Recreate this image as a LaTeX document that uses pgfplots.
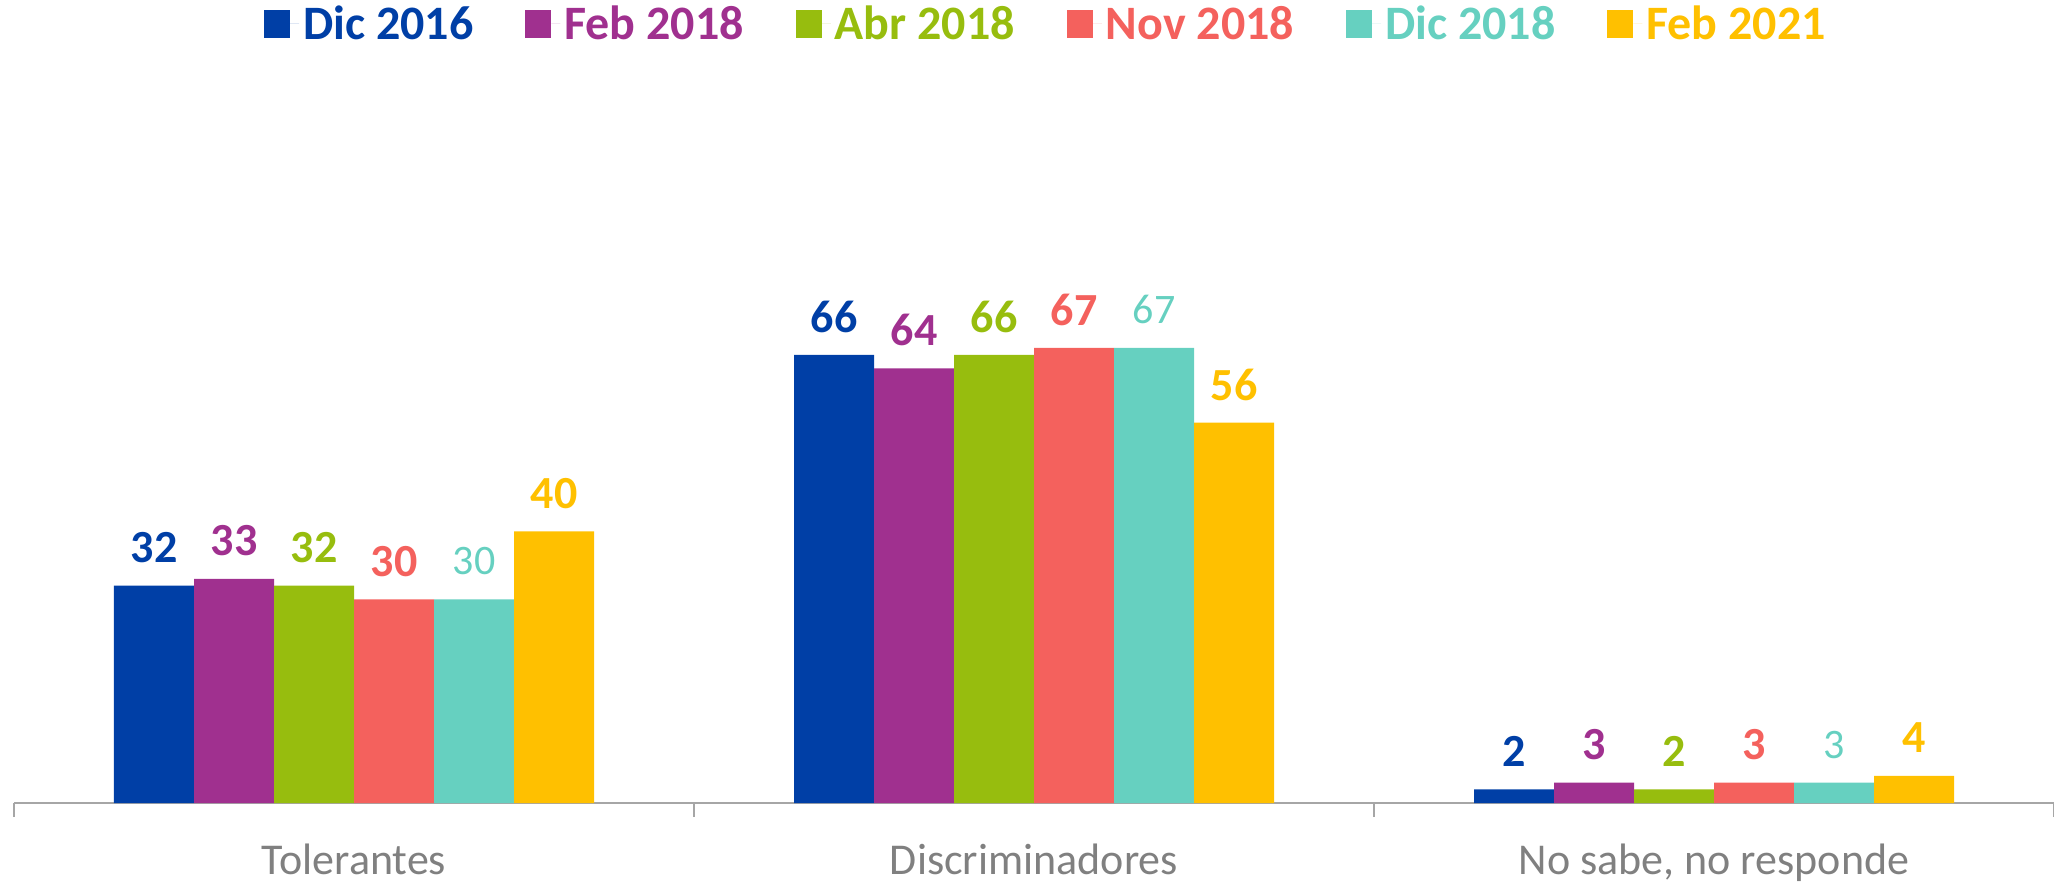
\documentclass[border=0pt]{standalone}
\usepackage{pgfplots}
\pgfplotsset{compat=1.18}
\usepackage{fontspec}
\setmainfont{Carlito}
\definecolor{cA}{HTML}{003FA6}
\definecolor{cB}{HTML}{A0308F}
\definecolor{cC}{HTML}{97BD0E}
\definecolor{cD}{HTML}{F4615D}
\definecolor{cE}{HTML}{66D0C0}
\definecolor{cF}{HTML}{FFC000}
\definecolor{axgray}{HTML}{A6A6A6}
\definecolor{lblgray}{HTML}{808080}
\begin{document}
\begin{tikzpicture}
\begin{axis}[
  scale only axis,
  width=1020pt, height=371.5pt,
  ybar=0pt, bar width=40pt,
  xmin=-0.5, xmax=2.5, ymin=0, ymax=109.4,
  enlargelimits=false,
  axis y line=none,
  axis x line*=bottom,
  x axis line style={draw=axgray, line width=1pt, -},
  xtick={0,1,2},
  xticklabels={Tolerantes, Discriminadores, {No sabe, no responde}},
  minor xtick={-0.5,0.5,1.5,2.5},
  major tick length=0pt,
  minor tick length=7pt,
  tick align=outside,
  every minor tick/.style={draw=axgray, line width=0.8pt},
  xticklabel style={font=\fontsize{22}{26}\selectfont, text=lblgray, yshift=-17pt},
  /pgf/number format/assume math mode=true,
  nodes near coords,
  every node near coord/.append style={anchor=center, yshift=19pt, font=\fontsize{23}{27}\selectfont\bfseries},
  legend columns=-1,
  legend style={at={(0.5,1)}, anchor=center, yshift=18pt, xshift=6.5pt, draw=none, fill=none,
    font=\fontsize{24}{28}\selectfont\bfseries,
    /tikz/every even column/.append style={column sep=24pt}},
  legend image code/.code={\fill[#1] (0pt,-7pt) rectangle (13pt,7pt); \path (13pt,0pt) -- (17.5pt,0pt);},
]
\addplot[fill=cA, draw=none, every node near coord/.append style={text=cA}] coordinates {(0,32) (1,66) (2,2)};
\addlegendentry{\textcolor{cA}{Dic 2016}}
\addplot[fill=cB, draw=none, every node near coord/.append style={text=cB}] coordinates {(0,33) (1,64) (2,3)};
\addlegendentry{\textcolor{cB}{Feb 2018}}
\addplot[fill=cC, draw=none, every node near coord/.append style={text=cC}] coordinates {(0,32) (1,66) (2,2)};
\addlegendentry{\textcolor{cC}{Abr 2018}}
\addplot[fill=cD, draw=none, every node near coord/.append style={text=cD}] coordinates {(0,30) (1,67) (2,3)};
\addlegendentry{\textcolor{cD}{Nov 2018}}
\addplot[fill=cE, draw=none, every node near coord/.append style={text=cE, font=\fontsize{21}{25}\selectfont}] coordinates {(0,30) (1,67) (2,3)};
\addlegendentry{\textcolor{cE}{Dic 2018}}
\addplot[fill=cF, draw=none, every node near coord/.append style={text=cF}] coordinates {(0,40) (1,56) (2,4)};
\addlegendentry{\textcolor{cF}{Feb 2021}}
\path (rel axis cs:0,0) coordinate (bl);
\path (rel axis cs:1,1) coordinate (tr);
\end{axis}
\pgfresetboundingbox
\path[use as bounding box] ([xshift=-7pt,yshift=-39.5pt]bl) rectangle ([yshift=30pt]tr);
\end{tikzpicture}
\end{document}
